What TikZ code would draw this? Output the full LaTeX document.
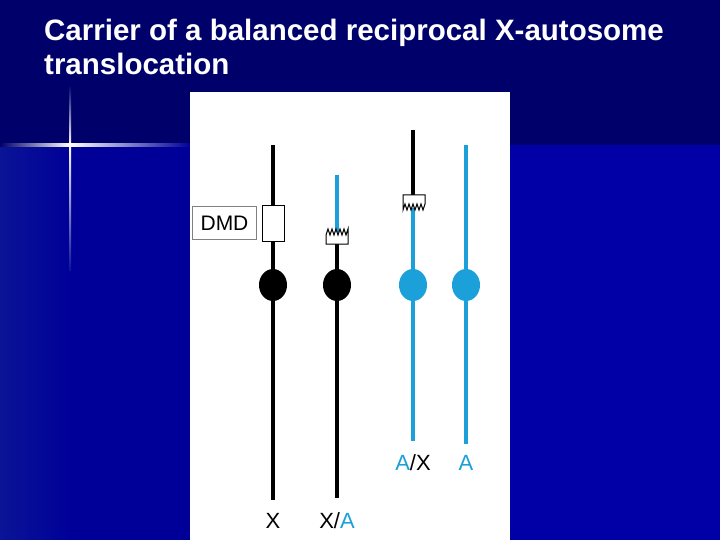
\documentclass[tikz,border=0pt]{standalone}
\usepackage{fontspec}
\setmainfont{Liberation Sans}
\usetikzlibrary{shapes.geometric}
\definecolor{bgtop}{HTML}{00006A}
\definecolor{bgmid}{HTML}{000098}
\definecolor{bgright}{HTML}{0000A6}
\definecolor{bgleft}{HTML}{0A1496}
\definecolor{cblue}{HTML}{1BA0DA}
\tikzset{
  chrom/.style={line width=3.5pt},
  cen/.style={ellipse, minimum width=28pt, minimum height=32pt, inner sep=0pt},
  lab/.style={font=\fontsize{22}{22}\selectfont, inner sep=0pt},
  brk/.style={draw=black, line width=1pt, fill=white}
}
\begin{document}
\begin{tikzpicture}[x=1pt,y=-1pt]
\useasboundingbox (0,0) rectangle (720,540);
\fill[bgtop] (0,0) rectangle (720,540);
\fill[bgmid] (70,145) rectangle (720,540);
\fill[bgright] (510,145) rectangle (720,540);
\shade[left color=bgleft, right color=bgmid] (0,145) rectangle (70,540);
% flare
\shade[top color=bgtop, bottom color=white] (69,85) rectangle (71,145);
\shade[top color=white, bottom color=bgleft] (69,145) rectangle (71,270);
\shade[left color=bgtop, right color=white] (0,144) rectangle (70,146.5);
\shade[left color=white, right color=bgmid] (70,144) rectangle (190,146.5);
% title
\node[anchor=north west, align=left, text=white, inner sep=0pt,
  font=\fontsize{29.5}{34}\selectfont\bfseries] (title) at (44,19)
  {Carrier of a balanced reciprocal X-autosome\\translocation};
% panel
\fill[white] (190,92) rectangle (510,540);
% X
\draw[chrom] (273,145) -- (273,500);
\node[draw, line width=1pt, fill=white, minimum width=22pt, minimum height=35pt, inner sep=0pt] (dmdbox) at (273,223.5) {};
\node[draw=gray, line width=1pt, fill=white, minimum width=64pt, minimum height=32pt, inner sep=0pt, font=\fontsize{21}{21}\selectfont] (dmd) at (224.5,223) {DMD};
\node[cen, fill=black] (c1) at (273,285) {};
% X/A
\draw[chrom, cblue] (337,175) -- (337,232);
\draw[chrom] (337,240) -- (337,498);
\draw[brk] (326,235) -- (328,229) -- (330,235) -- (332,229) -- (334,235) -- (336,229) -- (338,235) -- (340,229) -- (342,235) -- (344,229) -- (346,235) -- (348,229) -- (348,244) -- (326,244) -- cycle;
\node[cen, fill=black] (c2) at (337,285) {};
% A/X
\draw[chrom] (413,130) -- (413,197);
\draw[chrom, cblue] (413,208) -- (413,441);
\draw[brk] (403,210) -- (405,204) -- (407,210) -- (409,204) -- (411,210) -- (413,204) -- (415,210) -- (417,204) -- (419,210) -- (421,204) -- (423,210) -- (425,204) -- (425,195) -- (403,195) -- cycle;
\node[cen, fill=cblue] (c3) at (413,285) {};
% A
\draw[chrom, cblue] (466,145) -- (466,444);
\node[cen, fill=cblue] (c4) at (466,285) {};
% labels
\node[lab] (l1) at (273,521) {X};
\node[lab] (l2) at (337,521) {X/\textcolor{cblue}{A}};
\node[lab] (l3) at (413,463) {\textcolor{cblue}{A}/X};
\node[lab, text=cblue] (l4) at (466,463) {A};
\end{tikzpicture}
\end{document}
